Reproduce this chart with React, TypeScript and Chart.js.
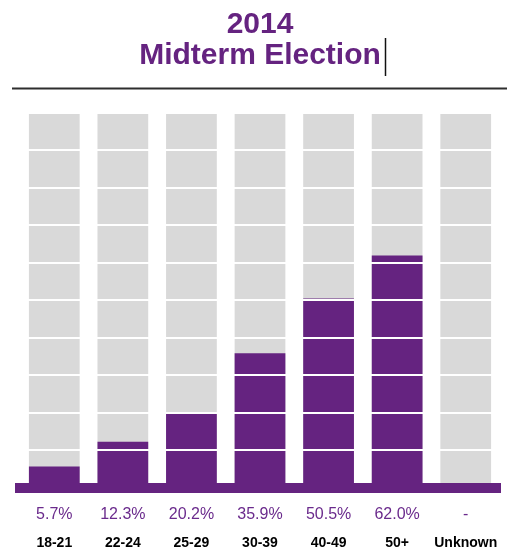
import React, { useEffect, useRef } from "react";
import { Chart, registerables } from "chart.js";

Chart.register(...registerables);

const categories = ["18-21", "22-24", "25-29", "30-39", "40-49", "50+", "Unknown"];
const turnout = [5.7, 12.3, 20.2, 35.9, 50.5, 62.0, null];
const fullScale = [100, 100, 100, 100, 100, 100, 100];
const percentLabels = ["5.7%", "12.3%", "20.2%", "35.9%", "50.5%", "62.0%", "-"];
const titleLines = ["2014", "Midterm Election"];

const PURPLE = "#652380";
const LABEL_PURPLE = "#6a2a8c";
const GREY = "#d9d9d9";
const FONT = "'Liberation Sans', Arial, Helvetica, sans-serif";
const TITLE_SIZE = 30;

const decorPlugin = {
  id: "decor",
  afterDraw(chart: any) {
    const ctx = chart.ctx;
    const tb = chart.titleBlock;
    if (!tb) return;
    const top = tb.top;
    ctx.save();
    // rule under the title
    ctx.strokeStyle = "#2e2e2e";
    ctx.lineWidth = 2;
    ctx.beginPath();
    ctx.moveTo(12, top + 88.5);
    ctx.lineTo(507, top + 88.5);
    ctx.stroke();
    // text cursor after the title
    ctx.font = `bold ${TITLE_SIZE}px ${FONT}`;
    const w = ctx.measureText(titleLines[1]).width;
    const cx = Math.round((tb.left + tb.right) / 2 + w / 2 + 4) + 0.5;
    ctx.strokeStyle = "#111";
    ctx.lineWidth = 1.5;
    ctx.beginPath();
    ctx.moveTo(cx, top + 38);
    ctx.lineTo(cx, top + 76);
    ctx.stroke();
    ctx.restore();
  },
};

export default function App() {
  const ref = useRef<HTMLCanvasElement | null>(null);

  useEffect(() => {
    document.body.style.margin = "0";
    if (!ref.current) return;
    const chart = new Chart(ref.current, {
      type: "bar",
      data: {
        labels: categories,
        datasets: [
          {
            data: turnout as any,
            backgroundColor: PURPLE,
            borderWidth: 0,
            grouped: false,
            categoryPercentage: 1,
            barPercentage: 0.74,
          },
          {
            data: fullScale,
            backgroundColor: GREY,
            borderWidth: 0,
            grouped: false,
            categoryPercentage: 1,
            barPercentage: 0.74,
          },
        ],
      },
      options: {
        responsive: false,
        animation: false,
        layout: { padding: { left: 20, right: 10, top: 0, bottom: 0 } },
        plugins: {
          legend: { display: false },
          tooltip: { enabled: false },
          title: {
            display: true,
            text: titleLines,
            color: PURPLE,
            font: { family: FONT, size: TITLE_SIZE, weight: "bold", lineHeight: 1.033 },
            padding: { top: 9, bottom: 42 },
          },
        },
        scales: {
          y: {
            min: 0,
            max: 100,
            ticks: { display: false, stepSize: 10 },
            grid: { color: "#ffffff", lineWidth: 2, drawTicks: false, z: 1 },
            border: { display: false },
          },
          x: {
            position: "bottom",
            weight: 1,
            offset: true,
            grid: { display: false, drawTicks: false },
            border: { display: false },
            ticks: {
              color: "#000",
              padding: 7,
              font: { family: FONT, size: 14, weight: "bold", lineHeight: 1.2 },
              maxRotation: 0,
              autoSkip: false,
            },
            afterFit: (scale: any) => {
              scale.height = 25;
            },
          },
          pct: {
            type: "category",
            labels: percentLabels,
            position: "bottom",
            weight: 0,
            offset: true,
            grid: { display: false, drawTicks: false },
            border: { display: true, color: PURPLE, width: 10, z: 2 },
            ticks: {
              color: LABEL_PURPLE,
              padding: 18,
              font: { family: FONT, size: 16, lineHeight: 1.1 },
              maxRotation: 0,
              autoSkip: false,
            },
            afterFit: (scale: any) => {
              scale.height = 40;
            },
          },
        },
      } as any,
      plugins: [decorPlugin],
    });
    return () => chart.destroy();
  }, []);

  return (
    <div style={{ width: 510, height: 553 }}>
      <canvas ref={ref} width={510} height={553} />
    </div>
  );
}
